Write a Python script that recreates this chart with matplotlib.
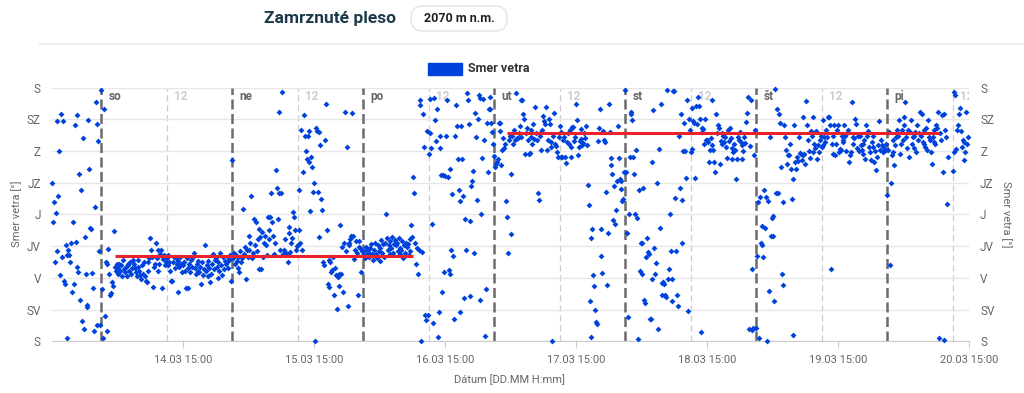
import matplotlib.pyplot as plt
import matplotlib.dates as mdates
import matplotlib.patches as patches
import numpy as np
import pandas as pd

nan = np.nan

# smer vetra [°], 10-minutove hodnoty od 13.03 15:00, jeden riadok = 2 hodiny
wind_dir = [
    225, 169, 197, 112, 182, 128, 312, 206, 270, 94, 322, 119,
    313, 85, 82, 137, 4, 122, 129, 122, 113, 139, 70, 169,
    82, 307, 141, 105, 321, 99, 238, 58, 214, 29, 288, 18,
    148, 96, 49, 52, 314, 245, 161, 159, 97, 76, 15, 191,
    339, 23, 309, 284, 128, 23, 356, 74, 5, 329, 36, 112,
    14, 110, 131, 96, 65, 69, 84, 78, 157, 105, 100, 110,
    96, 104, 110, 100, 108, 92, 115, 102, 98, 106, 93, 110,
    108, 100, 112, 96, 104, 116, 110, 104, 98, 92, 106, 115,
    100, 94, 88, 108, 96, 112, 92, 86, 84, 100, 112, 118,
    147, 130, 120, 77, 105, 110, 139, 118, 129, 100, 110, 124,
    129, 76, 117, 122, 108, 112, 118, 108, 122, 112, 100, 85,
    85, 112, 120, 104, 118, 110, 70, 114, 106, 120, 110, 98,
    108, 112, 100, 75, 118, 104, 75, 110, 98, 116, 106, 120,
    126, 104, 96, 110, 100, 114, 98, 106, 82, 112, 94, 102,
    137, 100, 108, 92, 114, 104, 84, 96, 110, 124, 102, 116,
    118, 106, 90, 112, 100, 126, 108, 94, 120, 102, 114, 110,
    112, 120, 104, 116, 122, 85, 257, 118, 126, 110, 122, 114,
    120, 104, 98, 128, 112, 118, 188, 124, 134, 89, 130, 120,
    130, 150, 140, 206, 118, 126, 174, 136, 169, 128, 145, 103,
    160, 148, 103, 155, 120, 140, 150, 136, 122, 176, 158, 145,
    176, 210, 169, 150, 124, 140, 243, 218, 174, 325, 210, 130,
    210, 354, 124, 130, 145, 126, 124, 113, 162, 153, 127, 140,
    146, 184, 176, 158, 130, 135, 136, 214, 158, 140, 300, 130,
    240, 321, 291, 270, 258, 291, 254, 299, 185, 262, 248, 212,
    224, 1, 302, 298, 212, 148, 297, 278, 202, 186, 113, 108,
    285, 337, 158, 82, 77, 115, 113, 98, 101, 120, 65, 104,
    94, 46, 91, 96, 79, 165, 96, 134, 70, 139, 325, 128,
    276, 50, 140, 136, 145, 150, 324, 150, 117, 130, 142, 125,
    65, 143, 134, 132, 99, 128, 122, 128, 118, 134, 124, 130,
    126, 120, 132, 138, 124, 116, 130, 140, 124, 118, 136, 128,
    114, 132, 144, 126, 138, 120, 140, 181, 146, 130, 136, 124,
    142, 132, 148, 126, 138, 144, 136, 140, 128, 146, 132, 124,
    130, 142, 118, 136, 126, 140, 134, 138, 122, 145, 128, 165,
    148, 233, 210, 140, 109, 132, 95, 129, 342, 335, 0, 127,
    323, 276, 37, 30, 298, 37, 266, 344, 296, 274, 167, 26,
    345, 314, 284, 330, 6, 41, 292, 274, 236, 70, 236, 98,
    235, 292, 342, 233, 101, 95, 244, 129, 209, 121, 31, 292,
    336, 306, 259, 215, 199, 42, 306, 258, 206, 61, 173, 130,
    353, 342, 308, 64, 170, 220, 227, 241, 125, 324, 290, 200,
    316, 350, 345, 58, 180, 260, 344, 285, 8, 74, 310, 240,
    329, 330, 347, 310, 297, 280, 263, 247, 252, 254, 258, 310,
    310, 298, 250, 271, 288, 275, 280, 199, 176, 126, 285, 292,
    238, 152, 292, 280, 300, 285, 353, 288, 288, 295, 305, 290,
    343, 342, 323, 315, 266, 295, 303, 286, 266, 267, 290, 300,
    280, 309, 287, 333, 295, 285, 210, 201, 291, 297, 271, 300,
    320, 312, 309, 333, 271, 285, 316, 309, 276, 283, 0, 292,
    324, 280, 277, 269, 262, 290, 306, 297, 262, 262, 285, 290,
    262, 253, 283, 295, 280, 300, 262, 276, 304, 304, 284, 290,
    337, 314, 265, 276, 284, 287, 301, 278, 282, 295, 288, 305,
    279, 222, 194, 57, 6, 147, 159, 94, 78, 45, 28, 24,
    284, 303, 329, 159, 121, 97, 299, 285, 283, 212, 80, 154,
    337, 297, 260, 250, 237, 172, 220, 166, 187, 228, 306, 260,
    230, 227, 216, 199, 202, 240, 356, 240, 153, 34, 181, 262,
    322, 325, 314, 262, 237, 181, 271, 175, 3, 214, 100, 140,
    96, 140, 218, 58, 55, 120, 146, 127, 124, 31, 31, 89,
    254, 328, 133, 96, 111, 224, 18, 273, 161, 337, 65, 83,
    84, 82, 66, 63, 356, 89, 103, 181, 128, 57, 89, 355,
    355, 203, 128, 66, 50, 292, 218, 323, 140, 200, 270, 310,
    270, 232, 342, 43, 315, 300, 269, 273, 331, 312, 310, 232,
    334, 309, 346, 334, 315, 13, 297, 302, 301, 280, 315, 285,
    285, 283, 254, 271, 288, 343, 278, 271, 254, 240, 322, 295,
    307, 302, 252, 284, 280, 296, 292, 283, 290, 276, 260, 300,
    284, 302, 288, 258, 275, 268, 280, 271, 231, 259, 290, 286,
    297, 283, 259, 278, 270, 290, 282, 311, 324, 346, 18, 277,
    342, 103, 16, 19, 265, 300, 19, 121, 197, 5, 205, 140,
    136, 163, 120, 214, 161, 205, 0, 199, 72, 290, 150, 175,
    150, 178, 57, 358, 210, 330, 210, 323, 310, 247, 95, 80,
    197, 307, 290, 271, 252, 264, 264, 280, 244, 202, 9, 231,
    307, 254, 245, 262, 256, 290, 267, 266, 257, 264, 318, 266,
    252, 341, 307, 285, 270, 260, 299, 292, 269, 318, 280, 275,
    298, 259, 279, 269, 285, 292, 276, 278, 314, 290, 283, 300,
    290, 318, 318, 307, 102, 280, 266, 292, 307, 265, 280, 300,
    307, 269, 273, 271, 292, 285, 283, 307, 291, 270, 295, 300,
    255, 264, 269, 340, 280, 290, 288, 316, 309, 275, 292, 270,
    292, 278, 271, 280, 266, 285, 259, 307, 292, 299, 276, 268,
    257, 283, 276, 292, 254, 270, 243, 262, 278, 312, 271, 285,
    278, 269, 276, 270, 272, 280, 208, 271, 297, 108, 224, 265,
    269, 285, 250, 278, 290, 300, 292, 314, 266, 280, 300, 285,
    318, 307, 340, 290, 275, 300, 262, 297, 314, 280, 290, 275,
    292, 297, 269, 307, 285, 295, 325, 292, 323, 283, 300, 280,
    276, 302, 271, 314, 290, 285, 269, 252, 290, 283, 300, 280,
    307, 302, 326, 5, 295, 285, 321, 240, 322, 2, 300, 290,
    195, 262, nan, nan, nan, nan, 241, 269, 354, 349, 273, 300,
    307, 323, 331, 298, 276, 285, 257, 283, 269, 325, 280, 290,
]

# priemerny smer v obdobiach (cervene ciary)
avg_start = ["2020-03-14 02:30", "2020-03-17 02:25"]
avg_end = ["2020-03-16 09:05", "2020-03-20 09:30"]
avg_value = [121, 295]

day_names = ["so", "ne", "po", "ut", "st", "št", "pi"]
dir_labels = ["S", "SV", "V", "JV", "J", "JZ", "Z", "SZ", "S"]

plt.rcParams['font.family'] = ['Roboto', 'DejaVu Sans']

times = pd.date_range("2020-03-13 15:00", periods=len(wind_dir), freq="10min")
t0 = pd.Timestamp("2020-03-13 15:00")
t1 = pd.Timestamp("2020-03-20 15:00")

fig = plt.figure(figsize=(10.24, 3.93), dpi=100)

# pozadie v pixeloch: titulok, legenda, popisy osi
deco = fig.add_axes([0, 0, 1, 1])
deco.set_xlim(0, 1024)
deco.set_ylim(393, 0)
deco.set_axis_off()

deco.text(330, 19, "Zamrznuté pleso", ha="center", va="center",
          fontsize=12.5, fontweight="bold", color="#1b3a4b")
deco.add_patch(patches.FancyBboxPatch((411, 6), 96, 25,
                                      boxstyle="round,pad=0,rounding_size=12",
                                      fc="white", ec="#e3e3e3", lw=1))
deco.text(459, 19, "2070 m n.m.", ha="center", va="center",
          fontsize=9, fontweight="bold", color="#222222")
deco.plot([40, 1024], [44, 44], color="#eeeeee", lw=1.5)

deco.add_patch(patches.Rectangle((428, 63), 34, 12, color="#0043dc"))
deco.text(468, 69, "Smer vetra", ha="left", va="center",
          fontsize=9, fontweight="bold", color="#333333")

deco.text(17, 214, "Smer vetra [°]", rotation=90, ha="center", va="center",
          fontsize=8, color="#666666")
deco.text(1006, 214, "Smer vetra [°]", rotation=270, ha="center", va="center",
          fontsize=8, color="#666666")
deco.text(510, 380, "Dátum [DD.MM H:mm]", ha="center", va="center",
          fontsize=8, color="#666666")

ax = fig.add_axes([52 / 1024, 1 - 341.3 / 393, (969 - 52) / 1024, (341.3 - 87.6) / 393])
ax.set_facecolor("none")
ax.set_xlim(t0, t1)
ax.set_ylim(0, 360)

yt = np.arange(0, 361, 45)
ax.set_yticks(yt)
ax.set_yticklabels(dir_labels)
ax.grid(axis="y", color="#e6e6e6", lw=1)
ax.tick_params(axis="y", length=0, labelsize=8.5, labelcolor="#666666", pad=8)

ax2 = ax.twinx()
ax2.set_ylim(0, 360)
ax2.set_yticks(yt)
ax2.set_yticklabels(dir_labels)
ax2.tick_params(axis="y", length=0, labelsize=8.5, labelcolor="#666666", pad=8)

for a in (ax, ax2):
    for side in ("top", "left", "right"):
        a.spines[side].set_visible(False)
ax.spines["bottom"].set_color("#cccccc")
ax2.spines["bottom"].set_visible(False)

xt = pd.date_range("2020-03-14 15:00", periods=7, freq="D")
ax.set_xticks(xt)
ax.xaxis.set_major_formatter(mdates.DateFormatter("%d.%m %H:%M"))
ax.tick_params(axis="x", length=5, color="#cccccc", labelsize=8,
               labelcolor="#666666", pad=5)

# dni a poludnia
midnights = pd.date_range("2020-03-14", periods=7, freq="D")
for d, name in zip(midnights, day_names):
    ax.axvline(d, color="#6b6b6b", lw=1.8, ls=(0, (4, 1.8)), zorder=2)
    ax.text(d + pd.Timedelta(hours=1.3), 347, name, ha="left", va="center",
            fontsize=8.5, fontweight="bold", color="#666666", clip_on=True)
noons = pd.date_range("2020-03-14 12:00", periods=7, freq="D")
for n in noons:
    ax.axvline(n, color="#cccccc", lw=0.9, ls=(0, (5, 3)), zorder=1)
    ax.text(n + pd.Timedelta(hours=1.3), 347, "12", ha="left", va="center",
            fontsize=8.5, fontweight="bold", color="#cccccc", clip_on=True)

ax.scatter(times, wind_dir, marker="D", s=9, color="#0043dc", lw=0, zorder=3,
           clip_on=False)

for s, e, v in zip(avg_start, avg_end, avg_value):
    ax.plot([pd.Timestamp(s), pd.Timestamp(e)], [v, v], color="#e8232b",
            lw=2.2, zorder=4, solid_capstyle="butt")

fig.savefig("out.png", dpi=100)
